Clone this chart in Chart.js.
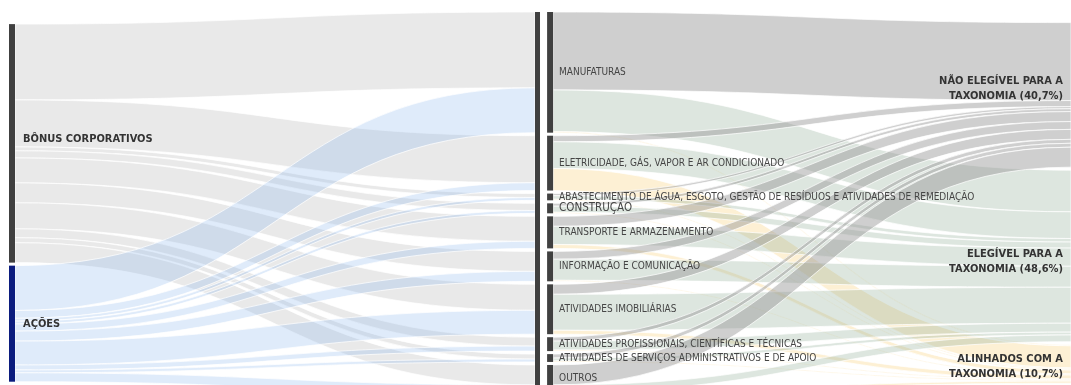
<!DOCTYPE html>
<html lang="pt">
<head>
    <meta charset="UTF-8">
    <title>Sankey - Taxonomia</title>
    <style>
        body { margin: 0; background: #fff; }
        .chart-container { width: 1071px; height: 385px; position: relative; }
    </style>
</head>
<body>
<div class="chart-container">
    <canvas id="sankeyChart"></canvas>
</div>

<script src="https://cdn.jsdelivr.net/npm/chart.js"></script>
<script>
// --- data (percent of portfolio) ---
const assetTypes = ['BÔNUS CORPORATIVOS', 'AÇÕES'];
const sectors = [
    'MANUFATURAS',
    'ELETRICIDADE, GÁS, VAPOR E AR CONDICIONADO',
    'ABASTECIMENTO DE ÁGUA, ESGOTO, GESTÃO DE RESÍDUOS E ATIVIDADES DE REMEDIAÇÃO',
    'CONSTRUÇÃO',
    'TRANSPORTE E ARMAZENAMENTO',
    'INFORMAÇÃO E COMUNICAÇÃO',
    'ATIVIDADES IMOBILIÁRIAS',
    'ATIVIDADES PROFISSIONAIS, CIENTÍFICAS E TÉCNICAS',
    'ATIVIDADES DE SERVIÇOS ADMINISTRATIVOS E DE APOIO',
    'OUTROS'
];
const taxonomy = [
    ['NÃO ELEGÍVEL PARA A', 'TAXONOMIA (40,7%)'],
    ['ELEGÍVEL PARA A', 'TAXONOMIA (48,6%)'],
    ['ALINHADOS COM A', 'TAXONOMIA (10,7%)']
];

// asset type -> sector
const bonusBySector = [21.3, 13.2, 1.1, 2.0, 7.0, 5.6, 7.3, 2.5, 1.4, 5.6];
const acoesBySector = [12.6, 2.2, 0.8, 0.8, 2.0, 2.8, 6.7, 1.4, 0.8, 2.5];

// sector -> taxonomy
const naoElegivel = [21.9, 1.7, 0.6, 0.8, 2.8, 2.2, 2.8, 1.1, 1.1, 5.6];
const elegivel    = [11.7, 7.5, 1.0, 1.7, 5.1, 5.9, 10.1, 2.5, 0.8, 1.9];
const alinhados   = [0.3, 6.2, 0.3, 0.3, 1.1, 0.3, 1.1, 0.3, 0.3, 0.6];

// --- styles ---
const FONT = '"Liberation Sans Narrow", "DejaVu Sans Condensed", sans-serif';
const assetNodeColors = ['#404040', '#0b1c7e'];
const assetFlowColors = ['rgba(195,195,195,0.36)', 'rgba(150,190,240,0.3)'];
const taxFlowColors = ['rgba(150,150,150,0.46)', 'rgba(150,178,156,0.32)', 'rgba(250,210,130,0.34)'];
const sectorNodeColor = '#404040';
const assetLabelShift = [-4, 0];
const taxLabelShift = [-6, 6, 3];
const NODE_W = 6;
const PAD = 0.85;          // gap between nodes, in value units
const colX = [0, 1, 1.023, 2.019];

// build links as {src, tgt, value}
function buildLinks(matrix) {
    const links = [];
    matrix.forEach((row, s) => row.forEach((v, t) => links.push({ src: s, tgt: t, value: v })));
    return links;
}
const leftLinks = buildLinks([bonusBySector, acoesBySector]);
const rightLinks = buildLinks(sectors.map((_, i) => [naoElegivel[i], elegivel[i], alinhados[i]]));

function sum(a) { return a.reduce((p, c) => p + c, 0); }
function nodeValues(links, n, key) {
    const out = new Array(n).fill(0);
    links.forEach(l => out[l[key]] += l.value);
    return out;
}

const assetVals = nodeValues(leftLinks, assetTypes.length, 'src');
const sectorIn = nodeValues(leftLinks, sectors.length, 'tgt');
const sectorOut = nodeValues(rightLinks, sectors.length, 'src');
const sectorVals = sectors.map((_, i) => Math.max(sectorIn[i], sectorOut[i]));
const taxVals = nodeValues(rightLinks, taxonomy.length, 'tgt');

// stack nodes in a column, centred against the tallest column
const colHeights = [assetVals, sectorVals, taxVals].map(v => sum(v) + (v.length - 1) * PAD);
const maxH = Math.max(...colHeights);
function stack(vals) {
    let y = (maxH - (sum(vals) + (vals.length - 1) * PAD)) / 2;
    return vals.map(v => { const n = { y0: y, y1: y + v }; y += v + PAD; return n; });
}
const assetNodes = stack(assetVals);
const sectorNodes = stack(sectorVals);
const taxNodes = stack(taxVals);

// place link ends on their nodes (outgoing sorted by target, incoming by source)
function placeLinks(links, srcNodes, tgtNodes) {
    const so = srcNodes.map(n => n.y0), to = tgtNodes.map(n => n.y0);
    [...links].sort((a, b) => a.src - b.src || a.tgt - b.tgt).forEach(l => {
        l.s0 = so[l.src]; l.s1 = so[l.src] += l.value;
    });
    [...links].sort((a, b) => a.tgt - b.tgt || a.src - b.src).forEach(l => {
        l.t0 = to[l.tgt]; l.t1 = to[l.tgt] += l.value;
    });
}
placeLinks(leftLinks, assetNodes, sectorNodes);
placeLinks(rightLinks, sectorNodes, taxNodes);

const PX_PER_UNIT = 3.56;
const yMin = -12 / PX_PER_UNIT;
const yMax = yMin + 385 / PX_PER_UNIT;

const sankeyPlugin = {
    id: 'sankeyDraw',
    afterDatasetsDraw(chart) {
        const ctx = chart.ctx;
        const xs = chart.scales.x, ys = chart.scales.y;
        const X = v => xs.getPixelForValue(v);
        const Y = v => ys.getPixelForValue(v);
        const bottom = chart.chartArea.bottom;

        function band(x0, x1, l, color) {
            const xm = (x0 + x1) / 2;
            const s0 = Y(l.s0), s1 = Y(l.s1), t0 = Y(l.t0), t1 = Y(l.t1);
            ctx.beginPath();
            ctx.moveTo(x0, s0);
            ctx.bezierCurveTo(xm, s0, xm, t0, x1, t0);
            ctx.lineTo(x1, t1);
            ctx.bezierCurveTo(xm, t1, xm, s1, x0, s1);
            ctx.closePath();
            ctx.fillStyle = color;
            ctx.fill();
            ctx.strokeStyle = 'rgba(255,255,255,0.9)';
            ctx.lineWidth = 0.8;
            ctx.stroke();
        }

        ctx.save();
        // flows
        leftLinks.forEach(l => band(X(colX[0]) + NODE_W, X(colX[1]), l, assetFlowColors[l.src]));
        rightLinks.forEach(l => band(X(colX[2]) + NODE_W, X(colX[3]), l, taxFlowColors[l.tgt]));

        // nodes
        assetNodes.forEach((n, i) => {
            ctx.fillStyle = assetNodeColors[i];
            ctx.fillRect(X(colX[0]), Y(n.y0), NODE_W, Y(n.y1) - Y(n.y0));
        });
        ctx.fillStyle = sectorNodeColor;
        const first = sectorNodes[0], last = sectorNodes[sectorNodes.length - 1];
        ctx.fillRect(X(colX[1]), Y(first.y0), NODE_W - 1, Y(last.y1) - Y(first.y0));
        sectorNodes.forEach(n => {
            ctx.fillRect(X(colX[2]), Y(n.y0), NODE_W, Y(n.y1) - Y(n.y0));
        });
        taxNodes.forEach(n => {
            ctx.fillRect(X(colX[3]), Y(n.y0), NODE_W, Y(n.y1) - Y(n.y0));
        });

        // labels
        ctx.textBaseline = 'middle';
        ctx.fillStyle = '#333';
        ctx.textAlign = 'left';
        ctx.font = 'bold 11px ' + FONT;
        assetNodes.forEach((n, i) => {
            const yc = (Y(n.y0) + Math.min(Y(n.y1), bottom)) / 2;
            ctx.fillText(assetTypes[i], X(colX[0]) + 14, yc + assetLabelShift[i]);
        });

        ctx.fillStyle = '#454545';
        sectorNodes.forEach((n, i) => {
            ctx.font = (i === 3 ? '11.5px ' : '10px ') + FONT;
            const yc = (Y(n.y0) + Y(n.y1)) / 2;
            ctx.fillText(sectors[i], X(colX[2]) + NODE_W + 6, Math.min(yc, bottom - 7));
        });

        ctx.fillStyle = '#333';
        ctx.textAlign = 'right';
        ctx.font = 'bold 11px ' + FONT;
        taxNodes.forEach((n, i) => {
            const yc = (Y(n.y0) + Y(n.y1)) / 2 + taxLabelShift[i];
            ctx.fillText(taxonomy[i][0], X(colX[3]) - 8, yc - 7.5);
            ctx.fillText(taxonomy[i][1], X(colX[3]) - 8, yc + 7.5);
        });
        ctx.restore();
    }
};

new Chart(document.getElementById('sankeyChart'), {
    type: 'scatter',
    data: { datasets: [{ data: [] }] },
    options: {
        responsive: true,
        maintainAspectRatio: false,
        animation: false,
        layout: { padding: 0 },
        plugins: { legend: { display: false }, tooltip: { enabled: false } },
        scales: {
            x: { type: 'linear', display: false, min: -9 / 526, max: 2.019 },
            y: { type: 'linear', display: false, reverse: true, min: yMin, max: yMax }
        }
    },
    plugins: [sankeyPlugin]
});
</script>
</body>
</html>
